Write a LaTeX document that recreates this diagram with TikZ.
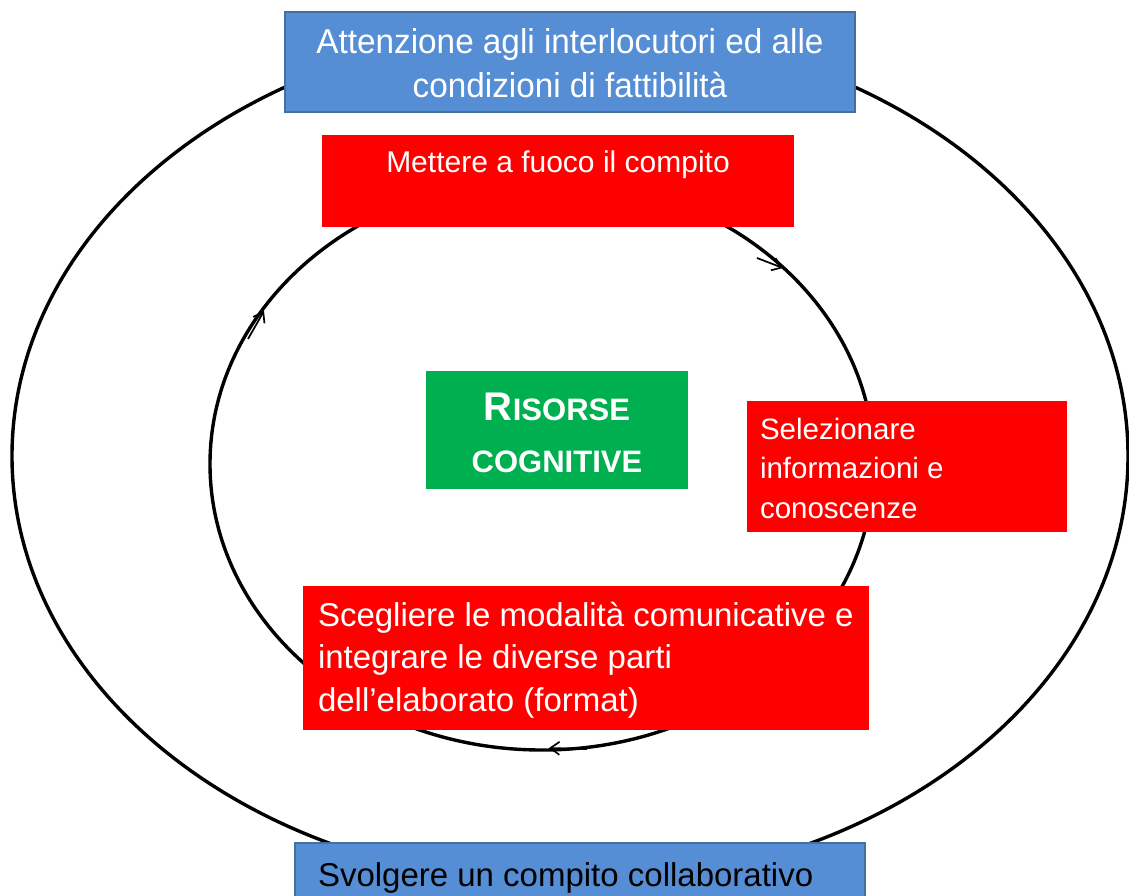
\documentclass[tikz,border=0pt]{standalone}
\usepackage{fontspec}
\setmainfont{Liberation Sans}
\newfontfamily\narrowsans[FakeStretch=0.965]{Liberation Sans}
\usetikzlibrary{arrows.meta}
\definecolor{boxblue}{HTML}{558ED5}
\definecolor{boxblueline}{HTML}{41719C}
\definecolor{boxred}{HTML}{FF0000}
\definecolor{boxgreen}{HTML}{00B050}
\begin{document}
\begin{tikzpicture}[x=1pt,y=-1pt,
  ring/.style={draw=black,line width=3.4pt},
  panel/.style={inner sep=0pt,outer sep=0pt,anchor=north west},
  bluebox/.style={panel,fill=boxblue,draw=boxblueline,line width=1.2pt},
  redbox/.style={panel,fill=boxred},
  greenbox/.style={panel,fill=boxgreen},
  txt/.style={inner sep=0pt,outer sep=0pt},
  cyc/.style={line width=1.7pt,-{Straight Barb[length=9pt,width=13pt]}}]
\useasboundingbox (0,0) rectangle (1129,895);
% rings
\draw[ring] (570,456) ellipse [x radius=558pt, y radius=429pt];
\draw[ring] (542,464) ellipse [x radius=332pt, y radius=286pt];
% boxes
\node[bluebox, minimum width=570pt, minimum height=100pt] (attenzione) at (285,12) {};
\node[redbox, minimum width=472pt, minimum height=92pt] (mettere) at (322,135) {};
\node[greenbox, minimum width=262pt, minimum height=118pt] (risorse) at (426,371) {};
\node[redbox, minimum width=320pt, minimum height=131pt] (selezionare) at (747,401) {};
\node[redbox, minimum width=566pt, minimum height=144pt] (scegliere) at (303,586) {};
\node[bluebox, minimum width=570pt, minimum height=70pt] (svolgere) at (295,843) {};
% texts (base anchor = baseline of the last line)
\node[txt, anchor=base, align=center, text=white,
  font=\narrowsans\fontsize{34.5pt}{44pt}\selectfont] (attenzioneT) at (570,97)
  {Attenzione agli interlocutori ed alle\\condizioni di fattibilità};
\node[txt, anchor=base, text=white, font=\fontsize{30pt}{36pt}\selectfont]
  (mettereT) at (558,172) {Mettere a fuoco il compito};
\node[txt, anchor=base, align=center, text=white, font=\bfseries\fontsize{31pt}{52pt}\selectfont]
  (risorseT) at (557,472) {{\fontsize{40pt}{52pt}\selectfont R}ISORSE\\COGNITIVE};
\node[txt, anchor=base west, align=left, text=white, font=\fontsize{29.5pt}{39.5pt}\selectfont]
  (selezionareT) at (760,518) {Selezionare\\informazioni e\\conoscenze};
\node[txt, anchor=base west, align=left, text=white, font=\fontsize{33pt}{42.5pt}\selectfont]
  (scegliereT) at (318,711) {Scegliere le modalità comunicative e\\integrare le diverse parti\\dell’elaborato (format)};
\node[txt, anchor=base west, text=black, font=\fontsize{33pt}{40pt}\selectfont]
  (svolgereT) at (318,886) {Svolgere un compito collaborativo};
% cycle arrows
\coordinate (a1s) at (757,258); \coordinate (a1e) at (783,268);
\coordinate (a2s) at (248,339); \coordinate (a2e) at (264,311);
\coordinate (a3s) at (587,749); \coordinate (a3e) at (549,748);
\draw[cyc] (a1s) -- (a1e);
\draw[cyc] (a2s) -- (a2e);
\draw[cyc] (a3s) -- (a3e);
\end{tikzpicture}
\end{document}
